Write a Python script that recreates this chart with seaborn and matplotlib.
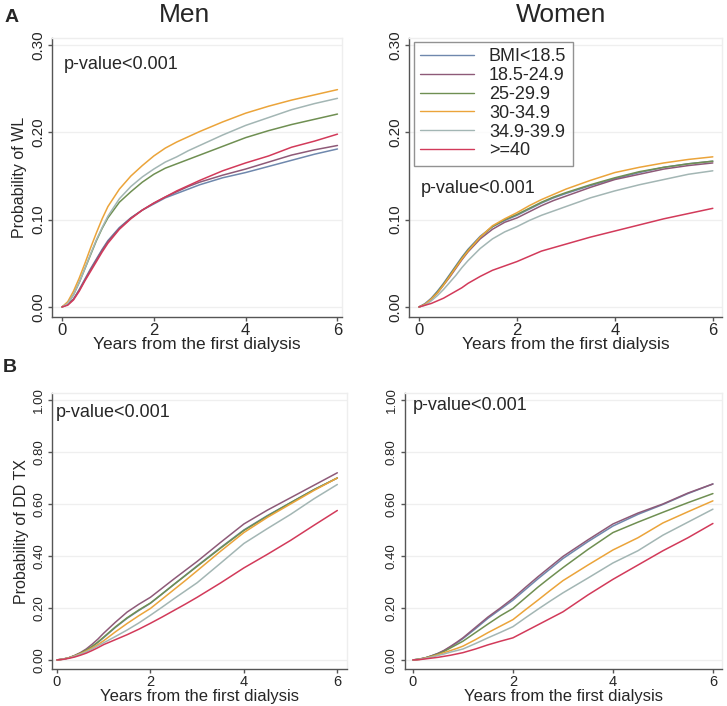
import numpy as np
import pandas as pd
import seaborn as sns
from matplotlib import pyplot as plt

# years since first dialysis (sampling points)
years = [0, 0.125, 0.25, 0.375, 0.5, 0.625, 0.75, 0.875, 1, 1.25, 1.5, 1.75,
         2, 2.25, 2.5, 2.75, 3, 3.5, 4, 4.5, 5, 5.5, 6]

groups = ['BMI<18.5', '18.5-24.9', '25-29.9', '30-34.9', '34.9-39.9', '>=40']
colors = ['#6f88ad', '#8e5a78', '#6f8f52', '#eba43a', '#a3b6b4', '#d23a5a']

men_wl = {
    'BMI<18.5':  [0, .003, .009, .020, .032, .044, .055, .066, .076, .091, .102, .111, .118, .125, .130, .135, .140, .148, .154, .161, .168, .175, .181],
    '18.5-24.9': [0, .003, .009, .019, .031, .043, .054, .065, .075, .090, .102, .111, .119, .126, .132, .138, .143, .151, .158, .166, .174, .180, .185],
    '25-29.9':   [0, .004, .014, .028, .044, .060, .076, .090, .102, .120, .132, .143, .152, .159, .164, .169, .174, .184, .194, .202, .209, .215, .221],
    '30-34.9':   [0, .006, .018, .033, .050, .068, .085, .101, .115, .135, .150, .162, .173, .182, .189, .195, .201, .212, .222, .230, .237, .243, .249],
    '34.9-39.9': [0, .004, .014, .028, .044, .061, .077, .091, .104, .124, .138, .149, .158, .166, .172, .179, .185, .197, .208, .217, .226, .233, .239],
    '>=40':      [0, .002, .008, .018, .030, .041, .052, .063, .073, .089, .101, .111, .119, .126, .133, .139, .145, .156, .165, .173, .183, .190, .198],
}
women_wl = {
    'BMI<18.5':  [0, .004, .010, .018, .027, .037, .047, .057, .066, .081, .092, .099, .105, .112, .119, .125, .130, .139, .147, .154, .160, .164, .167],
    '18.5-24.9': [0, .003, .009, .016, .025, .034, .044, .054, .063, .078, .089, .097, .102, .109, .116, .122, .127, .137, .146, .152, .158, .162, .165],
    '25-29.9':   [0, .003, .009, .017, .026, .036, .046, .056, .065, .080, .092, .100, .106, .113, .120, .126, .131, .140, .148, .155, .160, .164, .167],
    '30-34.9':   [0, .003, .009, .016, .025, .035, .045, .055, .064, .080, .093, .101, .108, .116, .123, .129, .135, .145, .154, .160, .165, .169, .172],
    '34.9-39.9': [0, .002, .007, .013, .020, .028, .036, .045, .053, .067, .078, .086, .092, .099, .105, .110, .115, .125, .133, .140, .146, .152, .156],
    '>=40':      [0, .002, .004, .007, .010, .014, .018, .022, .027, .035, .042, .047, .052, .058, .064, .068, .072, .080, .087, .094, .101, .107, .113],
}
men_tx = {
    'BMI<18.5':  [0, .003, .008, .016, .025, .036, .050, .067, .086, .125, .160, .190, .218, .254, .290, .326, .362, .432, .500, .555, .605, .655, .700],
    '18.5-24.9': [0, .003, .008, .017, .028, .042, .060, .080, .103, .145, .184, .214, .241, .276, .311, .345, .379, .452, .523, .576, .624, .672, .720],
    '25-29.9':   [0, .003, .008, .016, .026, .038, .052, .069, .088, .127, .162, .192, .219, .254, .290, .325, .360, .430, .498, .553, .605, .655, .700],
    '30-34.9':   [0, .003, .008, .015, .024, .034, .046, .059, .074, .108, .140, .170, .198, .234, .270, .306, .343, .418, .490, .548, .600, .652, .700],
    '34.9-39.9': [0, .003, .007, .014, .022, .031, .042, .054, .066, .090, .115, .142, .172, .203, .235, .266, .297, .372, .448, .505, .560, .620, .675],
    '>=40':      [0, .002, .006, .011, .018, .026, .036, .047, .059, .078, .097, .118, .141, .165, .190, .215, .241, .296, .354, .406, .460, .518, .575],
}
women_tx = {
    'BMI<18.5':  [0, .003, .008, .016, .025, .036, .050, .065, .082, .120, .160, .195, .230, .271, .312, .351, .390, .455, .515, .560, .598, .640, .677],
    '18.5-24.9': [0, .003, .008, .016, .025, .037, .052, .068, .085, .125, .165, .200, .237, .279, .320, .359, .398, .462, .523, .565, .600, .642, .677],
    '25-29.9':   [0, .003, .008, .015, .023, .033, .046, .059, .072, .105, .138, .170, .198, .239, .280, .318, .355, .425, .490, .530, .568, .605, .640],
    '30-34.9':   [0, .002, .007, .013, .020, .028, .036, .044, .053, .078, .105, .130, .155, .193, .230, .268, .305, .365, .423, .470, .527, .570, .612],
    '34.9-39.9': [0, .002, .006, .011, .017, .023, .030, .036, .042, .063, .085, .106, .128, .162, .195, .227, .258, .315, .373, .420, .480, .530, .580],
    '>=40':      [0, .001, .004, .007, .010, .014, .018, .023, .028, .042, .058, .072, .085, .110, .135, .160, .185, .250, .310, .365, .420, .470, .525],
}

sns.set_style('white')
plt.rcParams['font.family'] = ['Liberation Sans', 'DejaVu Sans']
plt.rcParams['axes.linewidth'] = 1.0
palette = dict(zip(groups, colors))


def to_long(curves):
    rows = []
    for g in groups:
        for t, v in zip(years, curves[g]):
            rows.append({'years': t, 'prob': v, 'group': g})
    return pd.DataFrame(rows)


fig = plt.figure(figsize=(7.27, 7.06), dpi=100)

panels = [
    # curves, [left, bottom, width, height], xlim, ylim, yticks, ylabel, pval pos, xlabel y
    (men_wl, [0.0715, 0.551, 0.399, 0.395], (-0.218, 6.10), (-0.0115, 0.308),
     [0, 0.1, 0.2, 0.3], 'Probability of WL', (0.03, 0.30 - 0.012), -0.072),
    (women_wl, [0.5626, 0.551, 0.430, 0.395], (-0.204, 6.18), (-0.0115, 0.308),
     [0, 0.1, 0.2, 0.3], '', (0.03, 0.145), -0.072),
    (men_tx, [0.0715, 0.052, 0.406, 0.391], (-0.107, 6.21), (-0.036, 1.026),
     [0, 0.2, 0.4, 0.6, 0.8, 1.0], 'Probability of DD TX', (-0.02, 0.985), -0.0725),
    (women_tx, [0.557, 0.052, 0.436, 0.391], (-0.16, 6.18), (-0.036, 1.026),
     [0, 0.2, 0.4, 0.6, 0.8, 1.0], '', (0.0, 1.01), -0.0725),
]

for i, (curves, rect, xlim, ylim, yticks, ylabel, ptxt, xly) in enumerate(panels):
    ax = fig.add_axes(rect)
    sns.lineplot(
        data=to_long(curves), x='years', y='prob', hue='group',
        hue_order=groups, palette=palette, linewidth=1.1, ax=ax,
        legend=(i == 1)
    )
    ax.set_xlim(*xlim)
    ax.set_ylim(*ylim)
    ax.set_xticks([0, 2, 4, 6])
    ax.set_yticks(yticks)
    ax.set_yticklabels(['{:.2f}'.format(v) for v in yticks],
                       rotation=90, va='center')
    ax.yaxis.grid(True, color='#efefef', linewidth=0.9)
    ax.set_axisbelow(True)
    for side in ['left', 'bottom']:
        ax.spines[side].set_color('#555555')
    for side in ['top', 'right']:
        ax.spines[side].set_color('#eeeeee')
    ax.tick_params(axis='both', direction='out', length=3, width=1.0,
                   color='#555555', left=True, bottom=True)
    if i < 2:
        ax.tick_params(axis='x', labelsize=12, pad=1.5)
        ax.tick_params(axis='y', labelsize=11, pad=2)
        ax.set_xlabel('Years from the first dialysis', fontsize=12.5)
    else:
        ax.tick_params(axis='x', labelsize=10.5, pad=1)
        ax.tick_params(axis='y', labelsize=9.5, pad=2)
        ax.set_xlabel('Years from the first dialysis', fontsize=12)
    ax.xaxis.set_label_coords(0.5, xly)
    ax.set_ylabel(ylabel, fontsize=11.5, labelpad=3)
    ax.text(ptxt[0], ptxt[1], 'p-value<0.001', fontsize=13, va='top', ha='left')

    if i == 1:
        leg = ax.legend(loc='upper left', bbox_to_anchor=(0.016, 0.986),
                        title=None, fontsize=13, frameon=True, fancybox=False,
                        handlelength=3.0, handletextpad=0.8, labelspacing=0.1,
                        borderpad=0.35, borderaxespad=0.0)
        leg.get_frame().set_edgecolor('#777777')
        leg.get_frame().set_linewidth(1.0)
        for line in leg.get_lines():
            line.set_linewidth(1.0)

fig.text(185 / 727, 1 - 15 / 706, 'Men', fontsize=19, ha='center', va='center')
fig.text(561 / 727, 1 - 15 / 706, 'Women', fontsize=19, ha='center', va='center')
fig.text(5 / 727, 1 - 17 / 706, 'A', fontsize=14, fontweight='bold', ha='left', va='center')
fig.text(3 / 727, 1 - 368 / 706, 'B', fontsize=14, fontweight='bold', ha='left', va='center')

fig.savefig('out.png', dpi=100)
